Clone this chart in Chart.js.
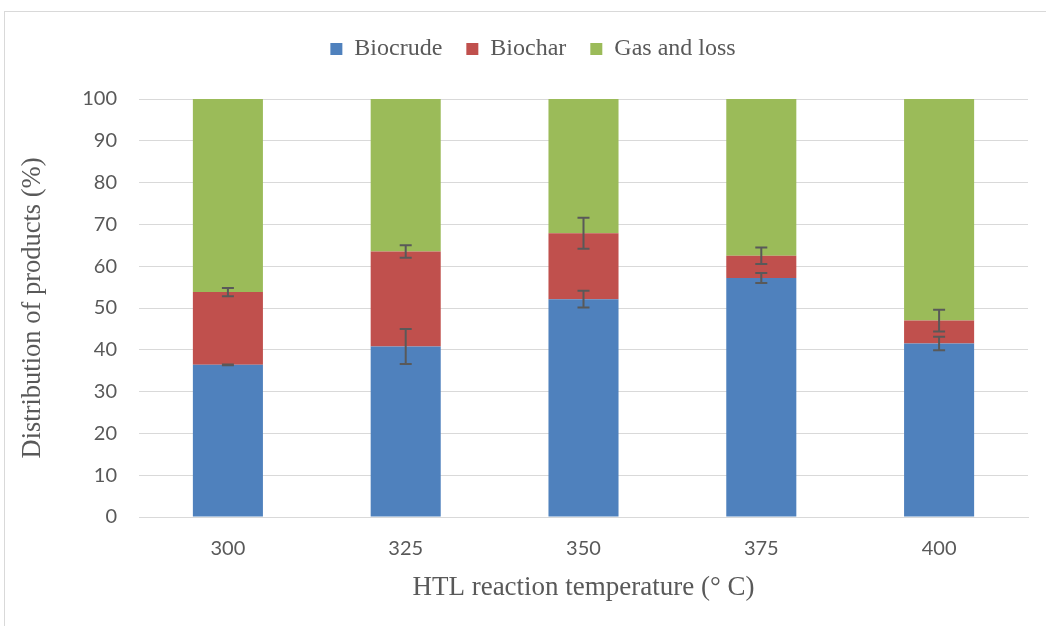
<!DOCTYPE html>
<html>
<head>
<meta charset="utf-8">
<script src="https://cdn.jsdelivr.net/npm/chart.js@4.4.1/dist/chart.umd.min.js"></script>
<style>
  html, body { margin: 0; padding: 0; background: #ffffff; overflow: hidden; }
  #wrap { position: relative; width: 1046px; height: 626px; }
  #frame { position: absolute; left: 4px; top: 11px; width: 1100px; height: 700px;
           border: 1px solid #d9d9d9; pointer-events: none; }
  canvas { position: absolute; left: 0; top: 0; }
</style>
</head>
<body>
<div id="wrap">
  <canvas id="chart" width="1046" height="626"></canvas>
  <div id="frame"></div>
</div>
<script>
// HTL reaction temperatures (° C)
const temperatures = ['300', '325', '350', '375', '400'];

// Product yields (%)
const biocrude = [36.4, 40.8, 52.1, 57.2, 41.5];
const biochar  = [17.4, 22.7, 15.8, 5.3, 5.5];
const gasLoss  = [46.2, 36.5, 32.1, 37.5, 53.0];

// Standard deviations for the measured fractions
const biocrudeErr = [0.1, 4.2, 2.0, 1.2, 1.6];
const biocharErr  = [1.0, 1.5, 3.7, 2.0, 2.6];

const yTicks = [0, 10, 20, 30, 40, 50, 60, 70, 80, 90, 100];

const GRID = '#d9d9d9';
const TEXT = '#595959';
const SERIF = "'Liberation Serif', 'Times New Roman', serif";
const SANS = "Lato, 'Liberation Sans', sans-serif";

// Error whiskers drawn at the top of each stacked segment
const errorBars = {
  id: 'errorBars',
  afterDatasetsDraw(chart) {
    const ctx = chart.ctx;
    const yScale = chart.scales.y;
    ctx.save();
    ctx.strokeStyle = '#595959';
    ctx.lineWidth = 2;
    chart.data.datasets.forEach((ds, di) => {
      if (!ds.errors) return;
      const meta = chart.getDatasetMeta(di);
      meta.data.forEach((bar, i) => {
        let top = 0;
        for (let k = 0; k <= di; k++) top += chart.data.datasets[k].data[i];
        const err = ds.errors[i];
        const yHi = yScale.getPixelForValue(top + err);
        const yLo = yScale.getPixelForValue(top - err);
        const x = bar.x;
        const cap = 6;
        ctx.beginPath();
        ctx.moveTo(x, yHi); ctx.lineTo(x, yLo);
        ctx.moveTo(x - cap, yHi); ctx.lineTo(x + cap, yHi);
        ctx.moveTo(x - cap, yLo); ctx.lineTo(x + cap, yLo);
        ctx.stroke();
      });
    });
    ctx.restore();
  }
};

// Keep the gap between the legend row and the plot area,
// and centre the legend row within the outer frame
const legendGap = {
  id: 'legendGap',
  beforeLayout(chart) {
    const lg = chart.legend;
    if (lg && !lg._gapWrapped) {
      const fit = lg.fit.bind(lg);
      lg.fit = function () { fit(); this.height = 86; };
      lg._gapWrapped = true;
    }
  },
  afterLayout(chart) {
    const lg = chart.legend;
    if (lg) { lg.left += 12; lg.right += 12; }
  }
};

new Chart(document.getElementById('chart'), {
  type: 'bar',
  data: {
    labels: temperatures,
    datasets: [
      { label: 'Biocrude', data: biocrude, errors: biocrudeErr, backgroundColor: '#4f81bd' },
      { label: 'Biochar', data: biochar, errors: biocharErr, backgroundColor: '#c0504d' },
      { label: 'Gas and loss', data: gasLoss, backgroundColor: '#9bbb59' }
    ]
  },
  options: {
    responsive: false,
    animation: false,
    devicePixelRatio: 1,
    layout: { padding: { left: 14, right: 18, top: 13, bottom: 20 } },
    datasets: { bar: { categoryPercentage: 1.0, barPercentage: 0.394 } },
    plugins: {
      legend: {
        position: 'top',
        labels: {
          boxWidth: 12, boxHeight: 12, padding: 24,
          color: TEXT,
          font: { family: SERIF, size: 24 }
        }
      },
      tooltip: { enabled: false }
    },
    scales: {
      x: {
        stacked: true,
        grid: { display: false, drawTicks: false },
        border: { display: true, color: GRID, width: 1 },
        ticks: { color: TEXT, font: { family: SANS, size: 20 }, padding: 20 },
        title: {
          display: true, text: 'HTL reaction temperature (° C)',
          color: TEXT, font: { family: SERIF, size: 27 }, padding: { top: 0, bottom: 2 }
        },
        afterFit(scale) { scale.height = 626 - 20 - 517; }
      },
      y: {
        stacked: true,
        min: 0, max: 100,
        afterBuildTicks(scale) { scale.ticks = yTicks.map(v => ({ value: v })); },
        grid: { color: GRID, lineWidth: 1, drawTicks: false },
        border: { display: false },
        ticks: { color: TEXT, font: { family: SANS, size: 20 }, padding: 22 },
        title: {
          display: true, text: 'Distribution of products (%)',
          color: TEXT, font: { family: SERIF, size: 26.5 }, padding: { top: 3, bottom: 0 }
        },
        afterFit(scale) { scale.width = 139 - 14; }
      }
    }
  },
  plugins: [errorBars, legendGap]
});
</script>
</body>
</html>
